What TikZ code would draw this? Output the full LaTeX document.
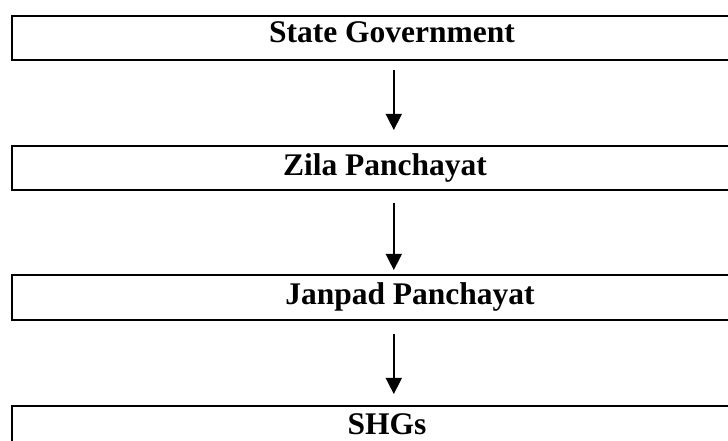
\documentclass[tikz,border=0pt]{standalone}
\usepackage{fontspec}
\setmainfont{Liberation Serif}
\usetikzlibrary{arrows.meta}
\begin{document}
\begin{tikzpicture}[x=1pt,y=1pt,
  box/.style={draw=black, line width=1.6pt, minimum width=763pt, inner sep=0pt, anchor=north west},
  lbl/.style={font=\bfseries\fontsize{31.5}{36}\selectfont, anchor=base, inner sep=0pt},
  arr/.style={line width=1.5pt, -{Triangle[width=16pt,length=16pt]}}]
\useasboundingbox (0,0) rectangle (728,441);
\clip (0,0) rectangle (728,441);
\node[box, minimum height=44pt] (b1) at (11,425.5) {};
\node[box, minimum height=43.5pt] (b2) at (11,295.5) {};
\node[box, minimum height=44.5pt] (b3) at (11,166.5) {};
\node[box, minimum height=44pt] (b4) at (11,36) {};
\node[lbl] (t1) at (392,398.5) {State Government};
\node[lbl] (t2) at (385,265) {Zila Panchayat};
\node[lbl] (t3) at (410,136) {Janpad Panchayat};
\node[lbl] (t4) at (387,6) {SHGs};
\draw[arr] ([shift={(0.5,-8.5)}]b1.south) -- ([shift={(0.5,15.5)}]b2.north);
\draw[arr] ([shift={(0.5,-12)}]b2.south) -- ([shift={(0.5,4.5)}]b3.north);
\draw[arr] ([shift={(0.5,-13)}]b3.south) -- ([shift={(0.5,11)}]b4.north);
\end{tikzpicture}
\end{document}
